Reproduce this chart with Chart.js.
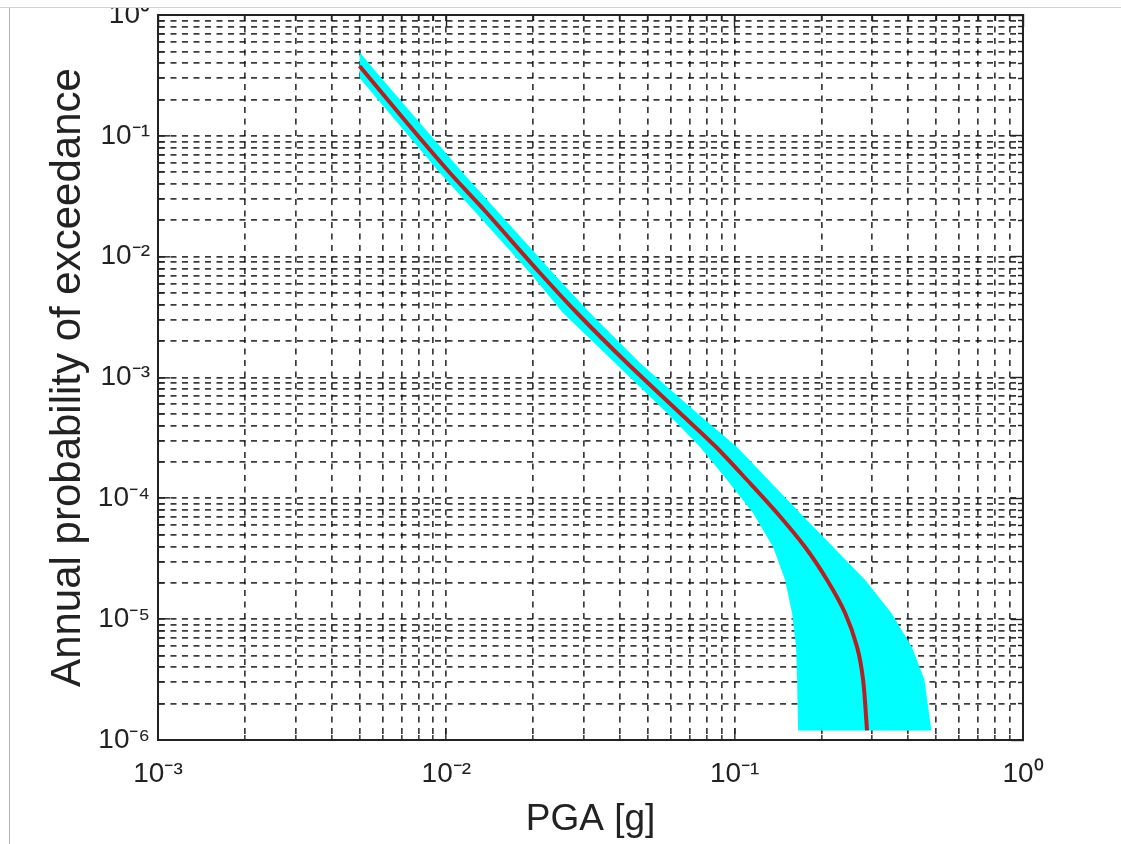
<!DOCTYPE html>
<html>
<head>
<meta charset="utf-8">
<script src="https://cdn.jsdelivr.net/npm/chart.js@4.4.1/dist/chart.umd.min.js"></script>
<style>
  body { margin: 0; background: #fff; }
  #frame { position: relative; width: 1121px; height: 844px; overflow: hidden; }
  #hazard { position: absolute; left: 0; top: 0; }
  #edgeTop { position: absolute; left: 0; top: 0; width: 1121px; height: 7px; background: #fff; border-bottom: 1px solid #d2d2d2; }
  #edgeLeft { position: absolute; left: 9px; top: 8px; width: 1px; height: 836px; background: #b4b4b4; }
</style>
</head>
<body>
<div id="frame">
  <canvas id="hazard" width="1121" height="844"></canvas>
  <div id="edgeTop"></div>
  <div id="edgeLeft"></div>
</div>
<script>
// mean hazard curve (PGA in g, annual probability of exceedance)
const pgaMedian = [0.005, 0.00731, 0.0103, 0.01353, 0.02113, 0.0284, 0.04234, 0.06464, 0.0862, 0.1104, 0.1403, 0.1754, 0.2092, 0.2415, 0.2658, 0.2789, 0.2878];
const apeMedian = [0.378, 0.1277, 0.04925, 0.02433, 0.007324, 0.003418, 0.001318, 0.0005083, 0.0002659, 0.0001418, 7.56e-5, 3.955e-5, 2.109e-5, 1.124e-5, 5.88e-6, 3.135e-6, 1.2e-6];

// upper edge of the uncertainty band
const pgaUpper = [0.005, 0.005749, 0.01143, 0.02345, 0.03151, 0.04697, 0.07405, 0.1019, 0.131, 0.1685, 0.2195, 0.2835, 0.3495, 0.4118, 0.4553, 0.4811];
const apeUpper = [0.4941, 0.3311, 0.04925, 0.007324, 0.003418, 0.001318, 0.0005083, 0.0002659, 0.0001418, 7.56e-5, 3.955e-5, 2.109e-5, 1.124e-5, 5.88e-6, 3.135e-6, 1.2e-6];

// lower edge of the uncertainty band
const pgaLower = [0.005, 0.009508, 0.01952, 0.0254, 0.03847, 0.05827, 0.07586, 0.0941, 0.1158, 0.1359, 0.1496, 0.1581, 0.1633, 0.1646, 0.166];
const apeLower = [0.3011, 0.04925, 0.007324, 0.003418, 0.001318, 0.0005083, 0.0002659, 0.0001418, 7.56e-5, 3.955e-5, 2.109e-5, 1.124e-5, 5.88e-6, 3.135e-6, 1.2e-6];

const xDecades = [1e-3, 1e-2, 1e-1, 1];
const xTickLabels = ['10⁻³', '10⁻²', '10⁻¹', '10⁰'];
const yDecades = [1e-6, 1e-5, 1e-4, 1e-3, 1e-2, 1e-1, 1];
const yTickLabels = ['10⁻⁶', '10⁻⁵', '10⁻⁴', '10⁻³', '10⁻²', '10⁻¹', '10⁰'];

const toPoints = (xs, ys) => xs.map((x, i) => ({ x: x, y: ys[i] }));

// band outline: along the upper edge, back along the lower edge
const bandOutline = toPoints(pgaUpper, apeUpper).concat(toPoints(pgaLower, apeLower).reverse());

// 1..9 x 10^n positions, decades flagged as major
function gridTicks(decades) {
  const ticks = [];
  decades.forEach((d, i) => {
    if (i === decades.length - 1) { ticks.push({ value: d, major: true }); return; }
    for (let m = 1; m <= 9; m++) ticks.push({ value: +(m * d).toPrecision(3), major: m === 1 });
  });
  return ticks;
}
const xGrid = gridTicks(xDecades);
const yGrid = gridTicks(yDecades);

function labelFor(v, decades, labels) {
  const i = decades.findIndex(d => Math.abs(Math.log10(v / d)) < 1e-6);
  return i >= 0 ? labels[i] : '';
}

const ink = '#222';
const gridInk = 'rgba(10,10,10,0.8)';
const tickFont = { family: "'Liberation Sans', Arial, sans-serif", size: 28, lineHeight: 1.2 };

// tick marks point inward, 12px on decades and 6px otherwise;
// fromAxis tells whether the mark is stroked starting at the axis line
function tickMarks(fromAxis) {
  return {
    tickLength: -12,
    tickColor: ink,
    tickWidth: 1.4,
    tickBorderDash: c => (c.tick && c.tick.major) ? [] : (fromAxis ? [6, 100] : [0, 6, 6, 100])
  };
}

function fixedSize(prop, size) {
  return function (s) {
    s[prop] = size;
    s.paddingTop = 0; s.paddingBottom = 0; s.paddingLeft = 0; s.paddingRight = 0;
  };
}

const dash = [6, 5.5];

new Chart(document.getElementById('hazard'), {
  type: 'line',
  data: {
    datasets: [
      {
        data: toPoints(pgaMedian, apeMedian),
        borderColor: '#b22222',
        borderWidth: 4,
        pointRadius: 0,
        tension: 0.3,
        fill: false,
        order: 0
      },
      {
        data: bandOutline,
        borderWidth: 0,
        borderColor: 'rgba(0,0,0,0)',
        backgroundColor: '#00ffff',
        pointRadius: 0,
        tension: 0,
        fill: 'shape',
        order: 1
      }
    ]
  },
  options: {
    responsive: false,
    animation: false,
    events: [],
    layout: { padding: { top: 15, left: 0, right: 98, bottom: 0 } },
    plugins: { legend: { display: false }, tooltip: { enabled: false } },
    scales: {
      x: {
        type: 'logarithmic',
        position: 'bottom',
        min: 1e-3,
        max: 1,
        afterBuildTicks: s => { s.ticks = xGrid.map(t => ({ value: t.value, major: t.major })); },
        afterFit: fixedSize('height', 104),
        grid: Object.assign({ color: gridInk, lineWidth: 1.7 }, tickMarks(true)),
        border: { display: true, color: ink, width: 2, dash: dash },
        ticks: {
          autoSkip: false,
          maxRotation: 0,
          padding: 29,
          color: ink,
          font: tickFont,
          callback: v => labelFor(v, xDecades, xTickLabels)
        },
        title: {
          display: true,
          text: 'PGA [g]',
          color: ink,
          font: { family: "'Liberation Sans', Arial, sans-serif", size: 37, lineHeight: 1.2 },
          padding: { top: 0, bottom: 2 }
        }
      },
      y: {
        type: 'logarithmic',
        position: 'left',
        min: 1e-6,
        max: 1,
        afterBuildTicks: s => { s.ticks = yGrid.map(t => ({ value: t.value, major: t.major })); },
        afterFit: fixedSize('width', 158),
        grid: Object.assign({ color: gridInk, lineWidth: 1.7 }, tickMarks(false)),
        border: { display: true, color: ink, width: 2, dash: dash },
        ticks: {
          autoSkip: false,
          padding: 20,
          color: ink,
          font: tickFont,
          callback: v => labelFor(v, yDecades, yTickLabels)
        },
        title: {
          display: true,
          text: 'Annual probability of exceedance',
          color: ink,
          font: { family: "'Liberation Sans', Arial, sans-serif", size: 42, lineHeight: 1.2 },
          padding: { top: 43, bottom: 0 }
        }
      },
      xTop: {
        type: 'logarithmic',
        position: 'top',
        min: 1e-3,
        max: 1,
        afterBuildTicks: s => { s.ticks = xGrid.map(t => ({ value: t.value, major: t.major })); },
        afterFit: fixedSize('height', 0),
        grid: Object.assign({ drawOnChartArea: false }, tickMarks(false)),
        border: { display: true, color: ink, width: 2 },
        ticks: { display: false }
      },
      yRight: {
        type: 'logarithmic',
        position: 'right',
        min: 1e-6,
        max: 1,
        afterBuildTicks: s => { s.ticks = yGrid.map(t => ({ value: t.value, major: t.major })); },
        afterFit: fixedSize('width', 0),
        grid: Object.assign({ drawOnChartArea: false }, tickMarks(true)),
        border: { display: true, color: ink, width: 2 },
        ticks: { display: false }
      }
    }
  }
});
</script>
</body>
</html>
